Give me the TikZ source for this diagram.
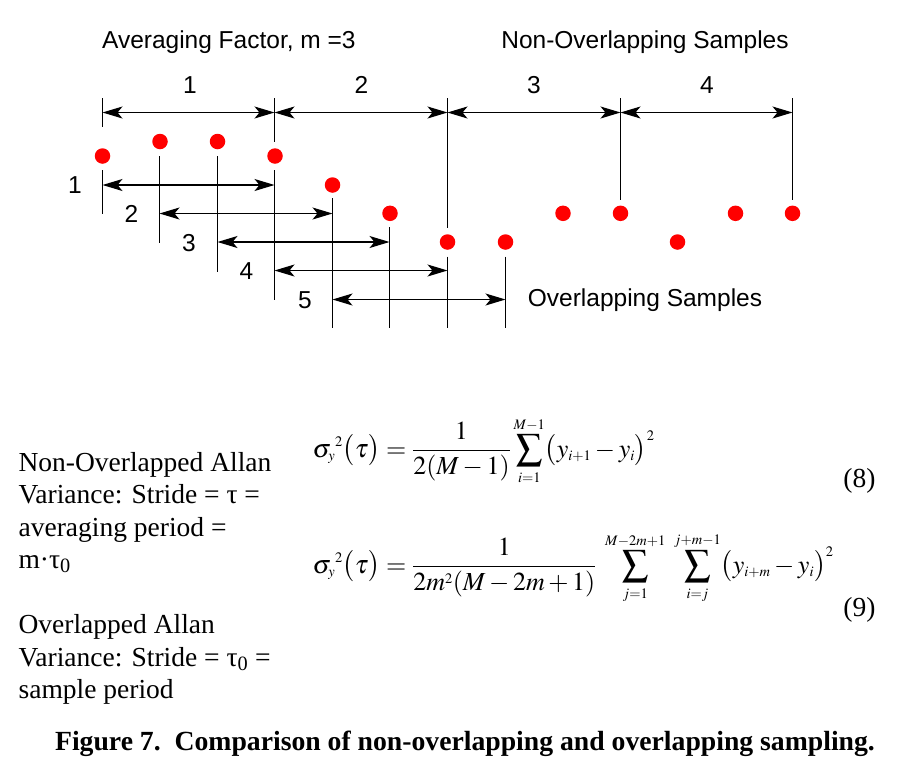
\documentclass[tikz,border=0pt]{standalone}
\usepackage{mathptmx}
\usepackage{fontspec}
\setmainfont{Liberation Serif}
\newfontfamily\arialf{Liberation Sans}
\DeclareMathSizes{26}{26}{14.5}{11}
\usetikzlibrary{arrows.meta}
\begin{document}
\begin{tikzpicture}[x=1pt,y=-1pt,line width=1.2pt,
  tip/.tip={Stealth[length=20pt,width=12pt,inset=5pt]},
  dimline/.style={tip-tip},
  sdot/.style={circle,fill=red,draw=none,inner sep=0pt,minimum size=15.5pt},
  lbl/.style={font=\arialf\fontsize{24.5}{28}\selectfont,inner sep=0pt},
  txt/.style={font=\fontsize{27.5}{32}\selectfont,inner sep=0pt,anchor=base west},
  eqn/.style={font=\fontsize{26}{30}\selectfont,inner sep=0pt,anchor=base west}]
\useasboundingbox (0,0) rectangle (901,766);

% samples
\node[sdot] (d1) at (102.5,156) {};
\node[sdot] (d2) at (160,141.5) {};
\node[sdot] (d3) at (217.5,141.5) {};
\node[sdot] (d4) at (275,156) {};
\node[sdot] (d5) at (332.5,185) {};
\node[sdot] (d6) at (390,213.3) {};
\node[sdot] (d7) at (447.5,242) {};
\node[sdot] (d8) at (505.5,242) {};
\node[sdot] (d9) at (563,213.3) {};
\node[sdot] (d10) at (620.5,213.3) {};
\node[sdot] (d11) at (677.5,242) {};
\node[sdot] (d12) at (735.5,213.3) {};
\node[sdot] (d13) at (792.5,213.3) {};

% top labels
\node[lbl,anchor=west] (avg) at (101.5,42) {Averaging Factor, m =3};
\node[lbl] (nonov) at (645,42) {Non-Overlapping Samples};

% non-overlapping dimension line
\coordinate (t0) at (102.5,112.5);
\coordinate (t1) at (274.5,112.5);
\coordinate (t2) at (447.5,112.5);
\coordinate (t3) at (620.5,112.5);
\coordinate (t4) at (792.5,112.5);
\draw[dimline] (t0) -- (t1);
\draw[dimline] (t1) -- (t2);
\draw[dimline] (t2) -- (t3);
\draw[dimline] (t3) -- (t4);
\node[lbl] (n1) at (190,85) {1};
\node[lbl] (n2) at (361.5,85) {2};
\node[lbl] (n3) at (534,85) {3};
\node[lbl] (n4) at (707,85) {4};

% vertical ticks
\draw (102.5,98) -- (102.5,127);
\draw (102.5,170) -- (102.5,214);
\draw (159.5,156) -- (159.5,242.5);
\draw (217.5,156) -- (217.5,271.5);
\draw (274.5,98) -- (274.5,141.5);
\draw (274.5,170) -- (274.5,300);
\draw (332.5,198) -- (332.5,328);
\draw (389.5,227) -- (389.5,328);
\draw (447.5,98) -- (447.5,228);
\draw (447.5,256.5) -- (447.5,328);
\draw (505.5,256.5) -- (505.5,328);
\draw (620.5,98) -- (620.5,199.5);
\draw (792.5,98) -- (792.5,199.5);

% overlapping dimension lines
\coordinate (a1) at (102.5,185);   \coordinate (b1) at (274.5,185);
\coordinate (a2) at (159.5,213.5); \coordinate (b2) at (332.5,213.5);
\coordinate (a3) at (217.5,242);   \coordinate (b3) at (389.5,242);
\coordinate (a4) at (274.5,270.5); \coordinate (b4) at (447.5,270.5);
\coordinate (a5) at (332.5,299.5); \coordinate (b5) at (505.5,299.5);
\draw[dimline] (a1) -- (b1);
\draw[dimline] (a2) -- (b2);
\draw[dimline] (a3) -- (b3);
\draw[dimline] (a4) -- (b4);
\draw[dimline] (a5) -- (b5);
\node[lbl] (o1) at (75,185) {1};
\node[lbl] (o2) at (131.5,214) {2};
\node[lbl] (o3) at (189,243) {3};
\node[lbl] (o4) at (246.5,271) {4};
\node[lbl] (o5) at (305,300) {5};
\node[lbl] (ov) at (645,300) {Overlapping Samples};

% left text
\node[txt] (l1) at (18,471.5) {Non-Overlapped Allan};
\node[txt] (l2) at (18,503.5) {Variance: Stride = τ =};
\node[txt] (l3) at (18,536) {averaging period =};
\node[txt] (l4) at (18,568) {m·τ\textsubscript{0}};
\node[txt] (l5) at (18,633) {Overlapped Allan};
\node[txt] (l6) at (18,666) {Variance: Stride = τ\textsubscript{0} =};
\node[txt] (l7) at (18,698.5) {sample period};

% equations
\node[eqn] (e8) at (312,457) {$\displaystyle \sigma_{y}{}^{2}\bigl(\tau\bigr)=\frac{1}{2(M-1)}\sum_{i=1}^{M-1}\bigl(y_{i+1}-y_{i}\bigr)^{2}$};
\node[eqn] (e9) at (312,573) {$\displaystyle \sigma_{y}{}^{2}\bigl(\tau\bigr)=\frac{1}{2m^{2}(M-2m+1)}\;\sum_{j=1}^{M-2m+1}\;\sum_{i=j}^{j+m-1}\bigl(y_{i+m}-y_{i}\bigr)^{2}$};
\node[txt,anchor=base east] (q8) at (876,487) {(8)};
\node[txt,anchor=base east] (q9) at (876,616) {(9)};

% caption
\node[txt,anchor=base,font=\bfseries\fontsize{27.7}{32}\selectfont] (cap) at (465,750) {Figure 7.\ \ Comparison of non-overlapping and overlapping sampling.};
\end{tikzpicture}
\end{document}
